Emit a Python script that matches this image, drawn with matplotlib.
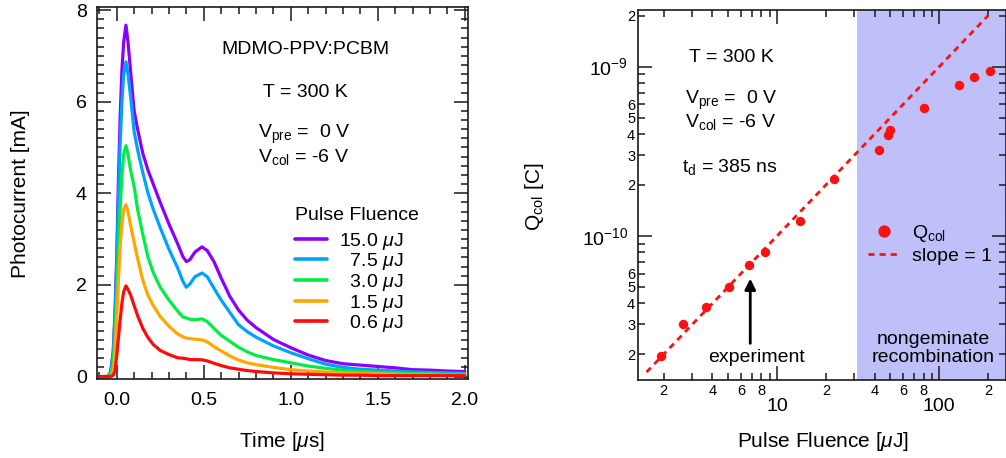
import matplotlib
matplotlib.use("Agg")
import matplotlib.pyplot as plt
from matplotlib.ticker import FixedLocator, FixedFormatter, MultipleLocator

plt.rcParams['font.family'] = ['Liberation Sans', 'DejaVu Sans']
plt.rcParams['mathtext.fontset'] = 'custom'
plt.rcParams['mathtext.rm'] = 'Liberation Sans'
plt.rcParams['mathtext.it'] = 'Liberation Sans:italic'
plt.rcParams['mathtext.bf'] = 'Liberation Sans:bold'

# ---------------- transient photocurrent traces ----------------
time_us = [-0.115, -0.05, -0.035, -0.02, -0.01, 0.0, 0.01, 0.02, 0.03, 0.04,
           0.053, 0.065, 0.08, 0.10, 0.12, 0.15, 0.18, 0.21, 0.25, 0.30,
           0.35, 0.38, 0.40, 0.42, 0.45, 0.49, 0.52, 0.56, 0.60, 0.65,
           0.70, 0.75, 0.80, 0.90, 1.00, 1.10, 1.20, 1.30, 1.40, 1.50,
           1.60, 1.70, 1.80, 1.90, 2.00]

current_15_0 = [0.0, 0.0, 0.10, 0.55, 1.40, 2.60, 4.30, 5.70, 6.70, 7.30,
                7.67, 7.30, 6.65, 5.80, 5.40, 4.87, 4.50, 4.20, 3.80, 3.33,
                2.90, 2.62, 2.51, 2.55, 2.72, 2.83, 2.75, 2.50, 2.15, 1.75,
                1.45, 1.23, 1.07, 0.81, 0.63, 0.47, 0.35, 0.28, 0.25, 0.22,
                0.19, 0.15, 0.14, 0.12, 0.11]
current_7_5 = [0.0, 0.0, 0.08, 0.50, 1.30, 2.40, 3.90, 5.10, 6.00, 6.60,
               6.87, 6.60, 6.10, 5.35, 4.95, 4.45, 4.00, 3.65, 3.25, 2.78,
               2.37, 2.08, 1.95, 2.02, 2.18, 2.26, 2.18, 1.92, 1.67, 1.40,
               1.13, 0.98, 0.86, 0.67, 0.52, 0.39, 0.27, 0.20, 0.16, 0.14,
               0.12, 0.10, 0.09, 0.08, 0.07]
current_3_0 = [0.0, 0.0, 0.05, 0.30, 0.90, 1.70, 2.80, 3.70, 4.40, 4.85,
               5.04, 4.85, 4.50, 4.15, 3.65, 3.10, 2.60, 2.27, 1.95, 1.67,
               1.43, 1.30, 1.28, 1.25, 1.24, 1.26, 1.20, 1.05, 0.90, 0.77,
               0.64, 0.54, 0.46, 0.37, 0.30, 0.23, 0.18, 0.14, 0.11, 0.09,
               0.08, 0.07, 0.06, 0.05, 0.05]
current_1_5 = [0.0, 0.0, 0.0, 0.12, 0.50, 1.30, 2.10, 2.85, 3.35, 3.65,
               3.75, 3.60, 3.30, 2.93, 2.58, 2.10, 1.77, 1.55, 1.31, 1.10,
               0.93, 0.87, 0.84, 0.83, 0.815, 0.80, 0.76, 0.65, 0.56, 0.45,
               0.36, 0.30, 0.26, 0.20, 0.15, 0.12, 0.10, 0.08, 0.07, 0.06,
               0.05, 0.04, 0.04, 0.03, 0.03]
current_0_6 = [0.0, 0.0, 0.0, 0.03, 0.12, 0.45, 0.85, 1.25, 1.60, 1.85,
               1.98, 1.90, 1.78, 1.55, 1.33, 1.05, 0.85, 0.70, 0.57, 0.48,
               0.41, 0.40, 0.39, 0.37, 0.37, 0.365, 0.34, 0.29, 0.24, 0.19,
               0.16, 0.13, 0.11, 0.08, 0.06, 0.05, 0.04, 0.03, 0.03, 0.02,
               0.02, 0.02, 0.02, 0.02, 0.02]

trace_labels = ['15.0', '7.5', '3.0', '1.5', '0.6']
trace_currents = [current_15_0, current_7_5, current_3_0, current_1_5, current_0_6]
trace_colors = ['#8a00ff', '#00a2ff', '#00ee44', '#ffa600', '#ff0a0a']

# ---------------- collected charge vs fluence ----------------
fluence_uJ = [1.93, 2.62, 3.64, 5.05, 6.75, 8.47, 13.9, 22.4,
              42.5, 48.0, 49.8, 80.1, 131.8, 163.0, 205.0]
charge_C = [1.95e-11, 3.03e-11, 3.83e-11, 5.02e-11, 6.74e-11, 8.08e-11,
            1.23e-10, 2.16e-10, 3.21e-10, 3.97e-10, 4.23e-10, 5.68e-10,
            7.79e-10, 8.66e-10, 9.47e-10]
slope_fluence = [1.57, 200.0]
slope_charge = [1.57e-11, 2.0e-9]
nongeminate_start = 31.3

x_minor_ticks = [2, 3, 4, 5, 6, 7, 8, 9, 20, 30, 40, 50, 60, 70, 80, 90, 200]
x_minor_labels = ['2', '', '4', '', '6', '', '8', '', '2', '', '4', '', '6', '', '8', '', '2']
x_major_ticks = [10, 100]
x_major_labels = ['10', '100']
y_minor_ticks = [2e-11, 3e-11, 4e-11, 5e-11, 6e-11, 7e-11, 8e-11, 9e-11,
                 2e-10, 3e-10, 4e-10, 5e-10, 6e-10, 7e-10, 8e-10, 9e-10, 2e-9]
y_minor_labels = ['2', '3', '4', '5', '6', '', '', '',
                  '2', '3', '4', '5', '6', '', '', '', '2']
y_major_ticks = [1e-10, 1e-9]
y_major_labels = ['10$^{-10}$', '10$^{-9}$']

fig = plt.figure(figsize=(10.06, 4.58), dpi=100)
W, H = 1006, 458


def axes_px(left, top, right, bottom):
    return fig.add_axes([left / W, 1 - bottom / H, (right - left) / W, (bottom - top) / H])


def style_frame(ax):
    for s in ax.spines.values():
        s.set_linewidth(1.2)
        s.set_color('#1a1a1a')
    ax.tick_params(which='both', direction='in', top=True, right=True,
                   color='#1a1a1a', width=1.1)
    ax.tick_params(which='major', length=10)
    ax.tick_params(which='minor', length=5)


# ---------- left panel ----------
ax1 = axes_px(96.7, 7.3, 468.3, 379.3)
for lab, cur, col in zip(trace_labels, trace_currents, trace_colors):
    pad = '' if len(lab) == 4 else '  '
    ax1.plot(time_us, cur, color=col, lw=2.3, solid_capstyle='round',
             solid_joinstyle='round', label=pad + lab + ' $\\mu$J')
ax1.set_xlim(-0.115, 2.02)
ax1.set_ylim(-0.06, 8.06)
ax1.xaxis.set_major_locator(MultipleLocator(0.5))
ax1.xaxis.set_minor_locator(MultipleLocator(0.1))
ax1.yaxis.set_major_locator(MultipleLocator(2))
ax1.yaxis.set_minor_locator(MultipleLocator(0.2))
ax1.xaxis.set_major_formatter(plt.FuncFormatter(lambda v, p: f'{v:.1f}'))
ax1.yaxis.set_major_formatter(plt.FuncFormatter(lambda v, p: f'{v:.0f}'))
style_frame(ax1)
ax1.tick_params(which='major', labelsize=14)
ax1.tick_params(axis='x', which='major', pad=9)
ax1.tick_params(axis='y', which='major', pad=7)
ax1.set_xlabel('Time [$\\mu$s]', fontsize=15)
ax1.set_ylabel('Photocurrent [mA]', fontsize=15)
ax1.xaxis.set_label_coords(0.498, -0.135)
ax1.yaxis.set_label_coords(-0.18, 0.5)

ax1.text(0.5606, 0.874, 'MDMO-PPV:PCBM', transform=ax1.transAxes,
         ha='center', va='baseline', fontsize=14)
ax1.text(0.5606, 0.760, 'T = 300 K', transform=ax1.transAxes,
         ha='center', va='baseline', fontsize=14)
ax1.text(0.434, 0.648, 'V$_{\\mathrm{pre}}$ =  0 V', transform=ax1.transAxes,
         ha='left', va='baseline', fontsize=14)
ax1.text(0.434, 0.585, 'V$_{\\mathrm{col}}$ = -6 V', transform=ax1.transAxes,
         ha='left', va='baseline', fontsize=14)
leg1 = ax1.legend(loc='upper left', bbox_to_anchor=(0.533, 0.462), frameon=False,
                  title='Pulse Fluence', title_fontsize=14, fontsize=14,
                  handlelength=1.65, handletextpad=0.6, labelspacing=-0.02,
                  borderpad=0, borderaxespad=0, alignment='left')
leg1._legend_box.sep = 4.5
for ln in leg1.get_lines():
    ln.set_linewidth(2.6)

# ---------- right panel ----------
ax2 = axes_px(638, 10, 1006, 380)
ax2.set_xscale('log')
ax2.set_yscale('log')
ax2.set_xlim(1.39, 258)
ax2.set_ylim(1.41e-11, 2.16e-9)
ax2.axvspan(nongeminate_start, 1000, color='#bfbffa', lw=0, zorder=0)
ax2.plot(slope_fluence, slope_charge, color='#ff1010', lw=2.0,
         dashes=(2.2, 1.8), label='slope = 1', zorder=2)
ax2.plot(fluence_uJ, charge_C, 'o', color='#ff1010', ms=6.8, mec='none',
         label='Q$_{\\mathrm{col}}$', zorder=3)
ax2.xaxis.set_major_locator(FixedLocator(x_major_ticks))
ax2.xaxis.set_major_formatter(FixedFormatter(x_major_labels))
ax2.xaxis.set_minor_locator(FixedLocator(x_minor_ticks))
ax2.xaxis.set_minor_formatter(FixedFormatter(x_minor_labels))
ax2.yaxis.set_major_locator(FixedLocator(y_major_ticks))
ax2.yaxis.set_major_formatter(FixedFormatter(y_major_labels))
ax2.yaxis.set_minor_locator(FixedLocator(y_minor_ticks))
ax2.yaxis.set_minor_formatter(FixedFormatter(y_minor_labels))
style_frame(ax2)
ax2.tick_params(which='major', labelsize=14)
ax2.tick_params(which='minor', labelsize=10.5)
ax2.tick_params(axis='x', which='major', pad=13)
ax2.tick_params(axis='x', which='minor', pad=3)
ax2.tick_params(axis='y', which='major', pad=7)
ax2.tick_params(axis='y', which='minor', pad=2)
ax2.set_xlabel('Pulse Fluence [$\\mu$J]', fontsize=15)
ax2.set_ylabel('Q$_{\\mathrm{col}}$ [C]', fontsize=15)
ax2.xaxis.set_label_coords(0.503, -0.135)
ax2.yaxis.set_label_coords(-0.25, 0.495)

ax2.text(0.2546, 0.859, 'T = 300 K', transform=ax2.transAxes,
         ha='center', va='baseline', fontsize=14)
ax2.text(0.1277, 0.746, 'V$_{\\mathrm{pre}}$ =  0 V', transform=ax2.transAxes,
         ha='left', va='baseline', fontsize=14)
ax2.text(0.1277, 0.685, 'V$_{\\mathrm{col}}$ = -6 V', transform=ax2.transAxes,
         ha='left', va='baseline', fontsize=14)
ax2.text(0.1204, 0.563, 't$_{\\mathrm{d}}$ = 385 ns', transform=ax2.transAxes,
         ha='left', va='baseline', fontsize=14)
ax2.annotate('', xy=(6.84, 5.6e-11), xytext=(6.84, 2.32e-11),
             arrowprops=dict(arrowstyle='-|>', color='black', lw=2.0,
                             mutation_scale=16, shrinkA=0, shrinkB=0))
ax2.text(0.3207, 0.0495, 'experiment', transform=ax2.transAxes,
         ha='center', va='baseline', fontsize=14)
ax2.text(0.8025, 0.0495, 'nongeminate\nrecombination', transform=ax2.transAxes,
         ha='center', va='baseline', fontsize=14, linespacing=1.05)

handles, labels = ax2.get_legend_handles_labels()
leg2 = ax2.legend(handles[::-1], labels[::-1], loc='upper left',
                  bbox_to_anchor=(0.625, 0.425), frameon=False, fontsize=14,
                  handlelength=1.65, handletextpad=0.6, labelspacing=0.2,
                  borderpad=0, borderaxespad=0, markerscale=1.3)

fig.savefig('out.png', dpi=100)
